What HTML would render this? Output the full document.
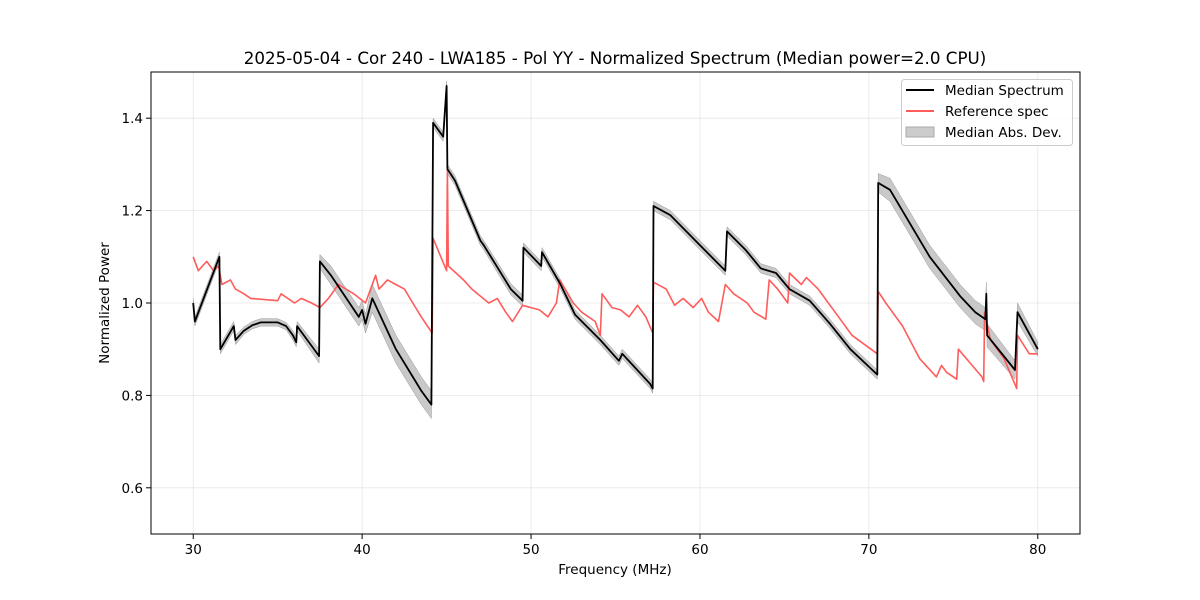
<!DOCTYPE html>
<html><head><meta charset="utf-8"><style>
body{margin:0;background:#fff}
svg{display:block;font-family:"DejaVu Sans","Liberation Sans",sans-serif}
</style></head><body>
<svg id="chart" width="1200" height="600" xmlns="http://www.w3.org/2000/svg">
<rect width="1200" height="600" fill="#fff"/>
<g id="grid"></g>
<g id="plot"></g>
<rect x="151" y="72" width="929" height="462" fill="none" stroke="#000" stroke-width="1"/>
<g id="ticks"></g>
<text x="615" y="64" text-anchor="middle" font-size="16.7">2025-05-04 - Cor 240 - LWA185 - Pol YY - Normalized Spectrum (Median power=2.0 CPU)</text>
<text x="615" y="574" text-anchor="middle" font-size="13.5">Frequency (MHz)</text>
<text transform="translate(109,303) rotate(-90)" text-anchor="middle" font-size="13.5">Normalized Power</text>
<g>
<rect x="901.5" y="79.5" width="171" height="66" rx="3" fill="#fff" fill-opacity="0.8" stroke="#ccc"/>
<line x1="906" y1="90" x2="934" y2="90" stroke="#000" stroke-width="2"/>
<text x="945" y="95" font-size="13.5">Median Spectrum</text>
<line x1="906" y1="111" x2="934" y2="111" stroke="#ff5c5c" stroke-width="2"/>
<text x="945" y="116" font-size="13.5">Reference spec</text>
<rect x="906" y="127" width="28" height="10" fill="#cccccc" stroke="#aaa"/>
<text x="945" y="137" font-size="13.5">Median Abs. Dev.</text>
</g>
</svg>
<script>
const xTicks=[30,40,50,60,70,80];
const yTicks=[0.6,0.8,1.0,1.2,1.4];
const yTickLabels=["0.6","0.8","1.0","1.2","1.4"];
const medFreq=[30,30.1,31.55,31.6,32.4,32.5,33,33.5,34,35,35.5,35.9,36.1,36.15,37.45,37.5,38.15,39.8,40,40.2,40.6,42,43.5,44.1,44.2,44.8,45.0,45.05,45.5,47,47.2,48.8,49.5,49.55,50.6,50.65,51.75,52.6,54.1,55.2,55.4,57.05,57.2,57.25,58.25,60,61.5,61.6,62.7,63.6,64.5,65.3,66.5,67.7,68.9,70.5,70.55,71.25,73.6,75.4,76.3,76.9,76.95,77.0,78.65,78.8,80];
const medVal=[1.0,0.96,1.10,0.90,0.95,0.92,0.94,0.952,0.958,0.958,0.95,0.93,0.915,0.95,0.885,1.09,1.06,0.97,0.985,0.955,1.01,0.90,0.81,0.78,1.39,1.36,1.47,1.29,1.265,1.135,1.125,1.03,1.005,1.12,1.08,1.11,1.04,0.975,0.92,0.875,0.89,0.825,0.815,1.21,1.19,1.125,1.07,1.155,1.115,1.075,1.065,1.03,1.005,0.955,0.9,0.845,1.26,1.245,1.10,1.015,0.98,0.965,1.02,0.93,0.855,0.98,0.9];
const madVal=[0.01,0.01,0.01,0.01,0.01,0.01,0.008,0.008,0.008,0.008,0.008,0.01,0.01,0.01,0.015,0.015,0.02,0.02,0.02,0.02,0.03,0.03,0.03,0.03,0.01,0.01,0.01,0.01,0.01,0.01,0.01,0.012,0.012,0.01,0.01,0.01,0.01,0.01,0.01,0.01,0.01,0.01,0.01,0.01,0.01,0.01,0.01,0.01,0.01,0.01,0.01,0.01,0.01,0.01,0.01,0.01,0.02,0.025,0.025,0.025,0.025,0.025,0.025,0.025,0.02,0.02,0.015];
const refFreq=[30,30.3,30.8,31.2,31.5,31.7,32.2,32.5,33,33.4,35,35.2,36,36.4,37,37.5,38,38.6,39.5,40.2,40.8,41,41.5,42,42.5,43,43.5,44.15,44.2,45,45.05,45.1,46,46.5,47.5,48,48.5,48.9,49.5,50,50.5,51,51.5,51.7,52.5,53,53.8,54.1,54.2,54.8,55.3,55.8,56.3,56.8,57.2,57.25,58,58.5,59,59.6,60.1,60.5,61.1,61.5,62,62.8,63.2,63.9,64.1,64.6,65.2,65.3,66,66.3,67,68,69,70.5,70.55,71,72,73,74,74.3,74.6,75.2,75.3,76,76.7,76.8,76.85,77.2,78,78.75,78.8,79.5,80];
const refVal=[1.10,1.07,1.09,1.07,1.08,1.04,1.05,1.03,1.02,1.01,1.005,1.02,1.0,1.01,1.0,0.99,1.01,1.04,1.02,1.0,1.06,1.03,1.05,1.04,1.03,1.0,0.97,0.935,1.14,1.07,1.29,1.08,1.05,1.03,1.0,1.01,0.98,0.96,0.995,0.99,0.985,0.97,1.0,1.05,1.0,0.98,0.96,0.93,1.02,0.99,0.985,0.97,0.995,0.97,0.935,1.045,1.03,0.995,1.01,0.99,1.01,0.98,0.96,1.04,1.02,1.0,0.98,0.965,1.05,1.03,1.0,1.065,1.04,1.055,1.03,0.98,0.93,0.89,1.025,1.0,0.95,0.88,0.84,0.865,0.85,0.835,0.9,0.87,0.84,0.83,0.98,0.92,0.88,0.815,0.93,0.89,0.89];
const NS="http://www.w3.org/2000/svg";
const X0=151,X1=1080,Y0=72,Y1=534,FMIN=27.5,FMAX=82.5,VMIN=0.5,VMAX=1.5;
function sx(f){return X0+(f-FMIN)/(FMAX-FMIN)*(X1-X0);}
function sy(v){return Y1-(v-VMIN)/(VMAX-VMIN)*(Y1-Y0);}
function mk(tag,attrs,parent){const e=document.createElementNS(NS,tag);for(const k in attrs)e.setAttribute(k,attrs[k]);parent.appendChild(e);return e;}
const grid=document.getElementById('grid'),plot=document.getElementById('plot'),ticks=document.getElementById('ticks');
xTicks.forEach(t=>{const x=sx(t);
 const g=mk('line',{x1:x,x2:x,y1:Y0,y2:Y1,stroke:'#b0b0b0','stroke-opacity':0.3,'stroke-width':0.8},grid);
 
 
 const tk=mk('line',{x1:x,x2:x,y1:Y1,y2:Y1+5,stroke:'#000'},ticks);
 
 
 const lb=mk('text',{x:x,y:Y1+20,'text-anchor':'middle','font-size':13.5},ticks);lb.textContent=t;
 
 
});
yTicks.forEach((t,i)=>{const y=sy(t);
 const g=mk('line',{x1:X0,x2:X1,y1:y,y2:y,stroke:'#b0b0b0','stroke-opacity':0.3,'stroke-width':0.8},grid);
 
 
 const tk=mk('line',{x1:X0-5,x2:X0,y1:y,y2:y,stroke:'#000'},ticks);
 
 
 const lb=mk('text',{x:X0-8,y:y+5,'text-anchor':'end','font-size':13.5},ticks);lb.textContent=yTickLabels[i];
 
 
});
let up=medFreq.map((f,i)=>sx(f).toFixed(1)+','+sy(medVal[i]+madVal[i]).toFixed(1));
let dn=medFreq.map((f,i)=>sx(f).toFixed(1)+','+sy(medVal[i]-madVal[i]).toFixed(1)).reverse();
const band=mk('polygon',{points:up.concat(dn).join(' '),fill:'#bbbbbb','fill-opacity':0.8,stroke:'#999','stroke-width':0.5},plot);


const ref=mk('polyline',{points:refFreq.map((f,i)=>sx(f).toFixed(1)+','+sy(refVal[i]).toFixed(1)).join(' '),fill:'none',stroke:'#ff5c5c','stroke-width':1.6,'stroke-linejoin':'round'},plot);


const med=mk('polyline',{points:medFreq.map((f,i)=>sx(f).toFixed(1)+','+sy(medVal[i]).toFixed(1)).join(' '),fill:'none',stroke:'#000','stroke-width':1.8,'stroke-linejoin':'round'},plot);


</script>
</body></html>
